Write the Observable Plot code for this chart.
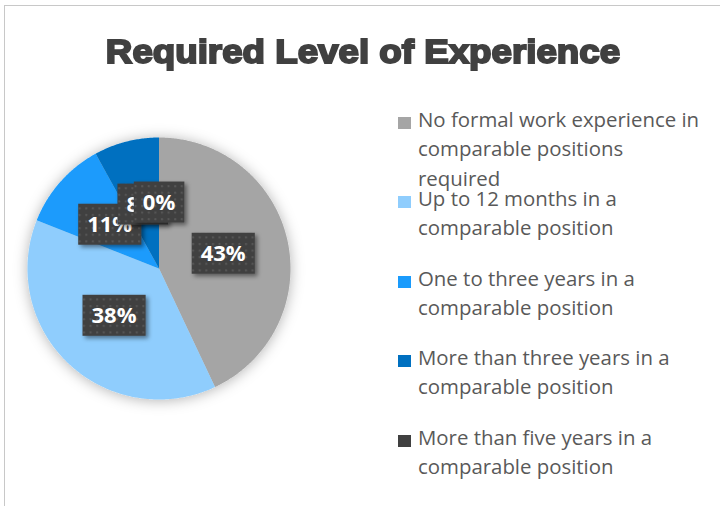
<!DOCTYPE html>
<html><head><meta charset="utf-8">
<script src="https://cdn.jsdelivr.net/npm/d3@7"></script>
<script src="https://cdn.jsdelivr.net/npm/@observablehq/plot@0.6"></script>
<style>
body{margin:0;background:#fff;}
#wrap{position:relative;width:720px;height:506px;overflow:hidden;background:#fff;}
#frame{position:absolute;left:4px;top:5px;width:740px;height:540px;border:1.5px solid #c8c8c8;box-sizing:border-box;}
#title{position:absolute;left:0;top:0;width:726px;text-align:center;font-family:"Liberation Sans",Arial,sans-serif;font-weight:bold;font-size:34px;color:#404040;-webkit-text-stroke:2px #404040;line-height:1;transform:scaleX(1.08);transform-origin:363px 0;}
#pie{position:absolute;left:0;top:108px;}
.lg{position:absolute;left:398px;font-family:"Open Sans",Lato,sans-serif;font-size:20.4px;color:#595959;line-height:29.5px;}
.lg .sw{position:absolute;left:0;width:13px;height:12px;}
.lg .tx{position:absolute;left:20px;white-space:nowrap;}
</style></head>
<body><div id="wrap"><div id="frame"></div><div id="title"></div><div id="pie"></div><div id="legend"></div></div>
<script>
const title = "Required Level of Experience";
const categories = [
  "No formal work experience in\ncomparable positions\nrequired",
  "Up to 12 months in a\ncomparable position",
  "One to three years in a\ncomparable position",
  "More than three years in a\ncomparable position",
  "More than five years in a\ncomparable position"
];
const values = [43, 38, 11, 8, 0];
const labels = ["43%", "38%", "11%", "8%", "0%"];
const colors = ["#A5A5A5", "#8FCDFD", "#1A9BFC", "#0070C0", "#404040"];

const tEl = document.getElementById("title");
tEl.textContent = title;
tEl.style.top = "34px";

const data = categories.map((c, i) => ({category: c, value: values[i], label: labels[i]}));
const arcs = d3.pie().value(d => d.value).sort(null)(data);

// wedge outlines in unit coordinates, angle clockwise from 12 o'clock
const wedgePts = [];
arcs.forEach(a => {
  const n = Math.max(2, Math.ceil((a.endAngle - a.startAngle) / 0.01));
  wedgePts.push({category: a.data.category, x: 0, y: 0});
  for (let k = 0; k <= n; k++) {
    const t = a.startAngle + (a.endAngle - a.startAngle) * k / n;
    wedgePts.push({category: a.data.category, x: Math.sin(t), y: Math.cos(t)});
  }
  wedgePts.push({category: a.data.category, x: 0, y: 0});
});
const labelPts = arcs.map(a => {
  const m = (a.startAngle + a.endAngle) / 2;
  return {label: a.data.label, x: 0.5 * Math.sin(m), y: 0.5 * Math.cos(m)};
});

const chart = Plot.plot({
  width: 320, height: 320,
  marginLeft: 27, marginRight: 30, marginTop: 29, marginBottom: 29,
  x: {domain: [-1, 1], axis: null},
  y: {domain: [-1, 1], axis: null},
  color: {domain: categories, range: colors},
  style: {background: "transparent", overflow: "visible"},
  marks: [
    Plot.line(wedgePts, {x: "x", y: "y", z: "category", fill: "category", stroke: null, curve: "linear", className: "wedges"}),
    Plot.text(labelPts, {x: "x", y: "y", text: "label", fill: "white", fontSize: 22, fontWeight: "bold", fontFamily: "'Open Sans', Lato, sans-serif", className: "plabels"})
  ]
});
document.getElementById("pie").appendChild(chart);

// decorations: shadow + textured label boxes
const svg = d3.select(chart);
const defs = svg.insert("defs", ":first-child");
const pat = defs.append("pattern").attr("id", "dots").attr("patternUnits", "userSpaceOnUse").attr("width", 6.6).attr("height", 6.6);
pat.append("rect").attr("width", 6.6).attr("height", 6.6).attr("fill", "#404040");
pat.append("rect").attr("x", 2).attr("y", 2).attr("width", 2).attr("height", 2).attr("fill", "#575757");
const f1 = defs.append("filter").attr("id", "pieshadow").attr("x", "-20%").attr("y", "-20%").attr("width", "140%").attr("height", "140%");
f1.append("feDropShadow").attr("dx", 0).attr("dy", 1).attr("stdDeviation", 7).attr("flood-color", "#000").attr("flood-opacity", 0.3);
const f2 = defs.append("filter").attr("id", "boxshadow").attr("x", "-30%").attr("y", "-30%").attr("width", "160%").attr("height", "160%");
f2.append("feDropShadow").attr("dx", 2.5).attr("dy", 2.5).attr("stdDeviation", 2).attr("flood-color", "#000").attr("flood-opacity", 0.45);
svg.select("g.wedges").attr("filter", "url(#pieshadow)");
svg.selectAll("g.plabels text").each(function() {
  const bb = this.getBBox();
  const cx = bb.x + bb.width / 2, cy = bb.y + bb.height / 2;
  const w = bb.width + 18, h = 41;
  const g = d3.select(this.parentNode);
  const r = g.insert("rect", () => this)
    .attr("x", cx - w / 2).attr("y", cy - h / 2 + 1).attr("width", w).attr("height", h)
    .attr("fill", "url(#dots)").attr("filter", "url(#boxshadow)");
  const tr = this.getAttribute("transform");
  if (tr) r.attr("transform", tr);
});

// legend
const baselines = [127, 206, 286, 365, 445];
const lg = d3.select("#legend");
categories.forEach((c, i) => {
  const e = lg.append("div").attr("class", "lg").style("top", (baselines[i] - 22.5) + "px");
  e.append("div").attr("class", "sw").style("background", colors[i]).style("top", "12px");
  const tx = e.append("div").attr("class", "tx");
  c.split("\n").forEach(line => tx.append("div").text(line));
});
</script></body></html>
